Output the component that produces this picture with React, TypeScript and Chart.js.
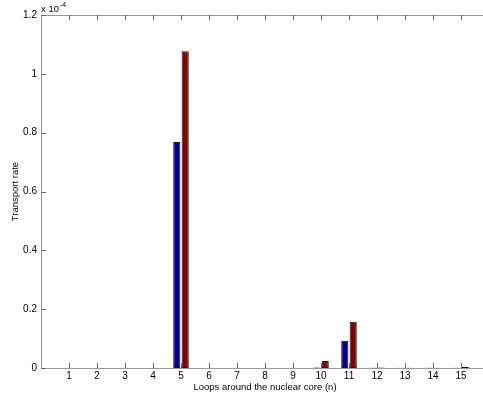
import React, { useEffect, useRef } from "react";
import { Chart, registerables } from "chart.js";

Chart.register(...registerables);

// Categories: loop number n (axis spans 0..16, ticks shown 1..15)
const categories = ["0", "1", "2", "3", "4", "5", "6", "7", "8", "9", "10", "11", "12", "13", "14", "15", "16"];
// Values in units of 1e-4 (axis multiplier "x 10^-4")
const seriesBlue = [null, 0, 0, 0, 0, 0.768, 0, 0, 0, 0, 0.002, 0.093, 0.001, 0.001, 0.0005, 0.001, null];
const seriesRed = [null, 0, 0, 0, 0, 1.077, 0, 0, 0, 0, 0.024, 0.157, 0.002, 0.001, 0.001, 0.004, null];
const yTicks = [0, 0.2, 0.4, 0.6, 0.8, 1, 1.2];
const xTitle = "Loops around the nuclear core (n)";
const yTitle = "Transport rate";

const FONT = "'Liberation Sans', Arial, Helvetica, sans-serif";

const innerTicks = {
  id: "innerTicks",
  afterDraw(chart: any) {
    const { ctx, chartArea } = chart;
    const xs = chart.scales.x;
    const ys = chart.scales.y;
    ctx.save();
    // top border
    ctx.strokeStyle = "#9a9a9a";
    ctx.lineWidth = 1;
    ctx.beginPath();
    ctx.moveTo(chartArea.left, Math.round(chartArea.top) + 0.5);
    ctx.lineTo(chartArea.right, Math.round(chartArea.top) + 0.5);
    ctx.stroke();
    ctx.strokeStyle = "#666";
    ctx.beginPath();
    for (let i = 1; i < categories.length - 1; i++) {
      const px = Math.round(xs.getPixelForValue(i)) + 0.5;
      ctx.moveTo(px, chartArea.bottom);
      ctx.lineTo(px, chartArea.bottom - 5);
      ctx.moveTo(px, chartArea.top);
      ctx.lineTo(px, chartArea.top + 5);
    }
    for (const v of yTicks) {
      const py = Math.round(ys.getPixelForValue(v)) + 0.5;
      ctx.moveTo(chartArea.left, py);
      ctx.lineTo(chartArea.left + 5, py);
    }
    ctx.stroke();
    // exponent label
    ctx.fillStyle = "#000";
    ctx.textBaseline = "alphabetic";
    ctx.textAlign = "left";
    ctx.font = `9.5px ${FONT}`;
    ctx.fillText("x 10", chartArea.left, chartArea.top - 3);
    const w = ctx.measureText("x 10").width;
    ctx.font = `7px ${FONT}`;
    ctx.fillText("-4", chartArea.left + w + 1, chartArea.top - 8);
    ctx.restore();
  },
};

export default function App() {
  const ref = useRef<HTMLCanvasElement | null>(null);
  useEffect(() => {
    if (!ref.current) return;
    const chart = new Chart(ref.current, {
      type: "bar",
      data: {
        labels: categories,
        datasets: [
          {
            data: seriesBlue,
            backgroundColor: "rgb(0,0,143)",
            borderColor: "#111",
            borderWidth: 1,
            borderSkipped: false,
            categoryPercentage: 0.6,
            barPercentage: 0.85,
          },
          {
            data: seriesRed,
            backgroundColor: "rgb(135,0,0)",
            borderColor: "#111",
            borderWidth: 1,
            borderSkipped: false,
            categoryPercentage: 0.6,
            barPercentage: 0.85,
          },
        ],
      },
      options: {
        animation: false,
        responsive: false,
        maintainAspectRatio: false,
        layout: { padding: { left: 0, top: 15, right: 51, bottom: 0 } },
        plugins: { legend: { display: false }, tooltip: { enabled: false } },
        scales: {
          x: {
            type: "category",
            offset: false,
            grid: { display: false, drawTicks: false },
            border: { display: true, color: "#9a9a9a" },
            ticks: {
              autoSkip: false,
              maxRotation: 0,
              padding: 2,
              color: "#000",
              font: { family: FONT, size: 10 },
              callback: (v: any, i: number) => (i === 0 || i === categories.length - 1 ? "" : categories[i]),
            },
            title: {
              display: true,
              text: xTitle,
              color: "#000",
              font: { family: FONT, size: 9.5 },
              padding: { top: 0, bottom: 4 },
            },
            afterFit: (s: any) => {
              s.height = 29;
            },
          },
          y: {
            min: 0,
            max: 1.2,
            grid: { display: false, drawTicks: false },
            border: { display: true, color: "#9a9a9a" },
            afterBuildTicks: (s: any) => {
              s.ticks = yTicks.map((v) => ({ value: v }));
            },
            ticks: {
              padding: 4,
              color: "#000",
              font: { family: FONT, size: 10 },
              callback: (v: any) => String(Math.round(Number(v) * 10) / 10),
            },
            title: {
              display: true,
              text: yTitle,
              color: "#000",
              font: { family: FONT, size: 9.5 },
              padding: { top: 10, bottom: 0 },
            },
            afterFit: (s: any) => {
              s.width = 41;
            },
          },
        },
      },
      plugins: [innerTicks],
    });
    return () => chart.destroy();
  }, []);
  return (
    <div style={{ position: "fixed", left: 0, top: 0, width: 483, height: 397, overflow: "hidden", background: "#fff" }}>
      <canvas ref={ref} width={540} height={397} style={{ width: 540, height: 397, display: "block" }} />
    </div>
  );
}
